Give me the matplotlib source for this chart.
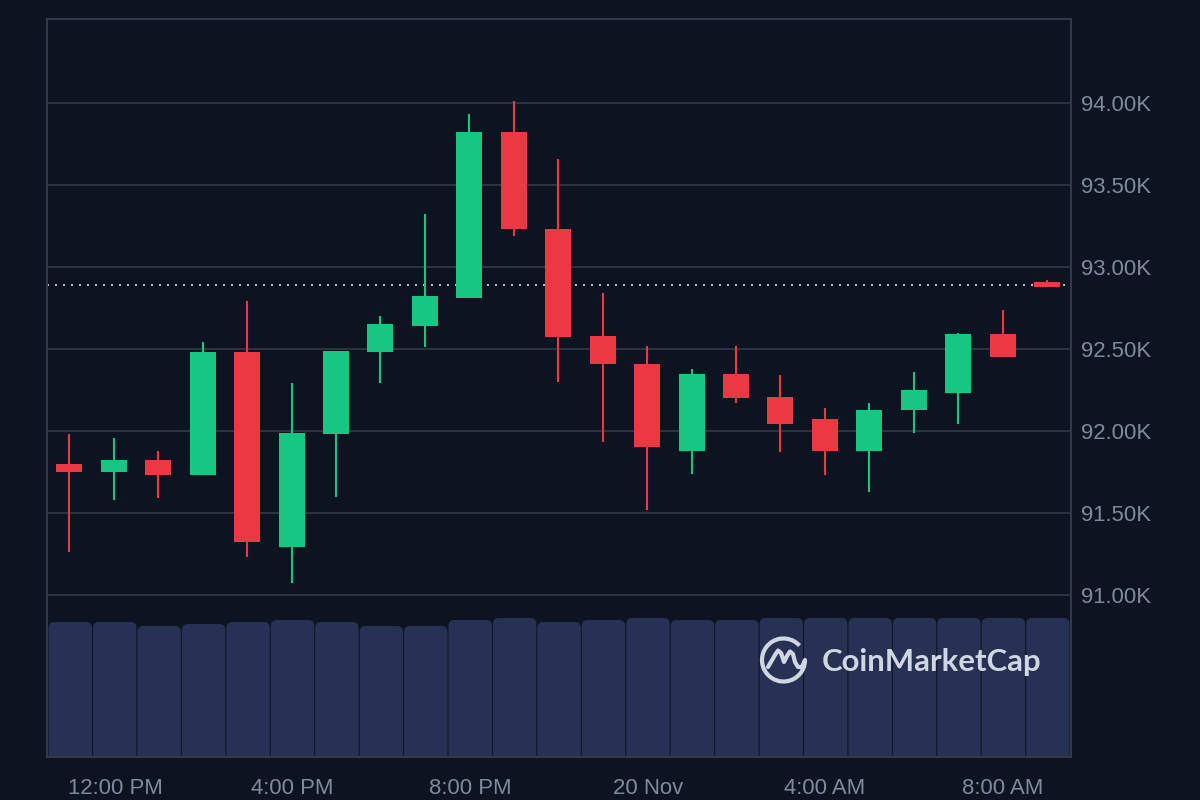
import numpy as np
import matplotlib.pyplot as plt
from matplotlib.patches import FancyBboxPatch, Arc

# OHLC in thousands of USD, one candle per hour-ish slot
opens = [91.80, 91.75, 91.82, 91.73, 92.48, 91.29, 91.98, 92.48, 92.64, 92.81, 93.82, 93.23,
         92.58, 92.41, 91.88, 92.35, 92.21, 92.07, 91.88, 92.13, 92.23, 92.59, 92.91]
closes = [91.75, 91.82, 91.73, 92.48, 91.32, 91.99, 92.49, 92.65, 92.82, 93.82, 93.23, 92.57,
          92.41, 91.90, 92.35, 92.20, 92.04, 91.88, 92.13, 92.25, 92.59, 92.45, 92.88]
highs = [91.98, 91.96, 91.88, 92.54, 92.79, 92.29, 92.49, 92.70, 93.32, 93.93, 94.01, 93.66,
         92.84, 92.52, 92.38, 92.52, 92.34, 92.14, 92.17, 92.36, 92.60, 92.74, 92.92]
lows = [91.26, 91.58, 91.59, 91.73, 91.23, 91.07, 91.60, 92.29, 92.51, 92.81, 93.19, 92.30,
        91.93, 91.52, 91.74, 92.17, 91.87, 91.73, 91.63, 91.99, 92.04, 92.45, 92.88]
volumes = [135, 135, 131, 133, 135, 137, 135, 131, 131, 137, 139, 135,
           137, 139, 137, 137, 139, 139, 139, 139, 139, 139, 139]
# colour of the candle, not always open vs close because of the gaps
is_up = [False, True, False, True, False, True, True, True, True, True, False, False,
         False, False, True, False, False, False, True, True, True, False, False]

last_price = 92.89
price_ticks = [91, 91.5, 92, 92.5, 93, 93.5, 94]
price_labels = ['91.00K', '91.50K', '92.00K', '92.50K', '93.00K', '93.50K', '94.00K']
time_ticks = [1.03, 5.02, 9.02, 13.03, 17.0, 21.01]
time_labels = ['12:00 PM', '4:00 PM', '8:00 PM', '20 Nov', '4:00 AM', '8:00 AM']

BG = '#0d1421'
GRID = '#2b3240'
SPINE = '#323a49'
TEXT = '#808a9d'
GREEN = '#16c784'
RED = '#ea3943'
VOL = '#273154'
LOGO = '#cfd6e4'

plt.rcParams['font.family'] = ['Liberation Sans', 'DejaVu Sans']

XLIM = (-0.504, 22.54)

fig = plt.figure(figsize=(12, 8), dpi=100, facecolor=BG)
rect = [47 / 1200, 1 - 757 / 800, 1024 / 1200, 738 / 800]

# volume sits behind, its own axes with 1 unit = 1 pixel
ax_vol = fig.add_axes(rect, facecolor=BG)
ax_vol.set_xlim(*XLIM)
ax_vol.set_ylim(0, 738)
ax_vol.axis('off')
for i, v in enumerate(volumes):
    box = FancyBboxPatch((i - 0.488 + 0.02, -12), 0.976, v + 12,
                         boxstyle='round,pad=0,rounding_size=0.13',
                         mutation_aspect=44.45, fc=VOL, ec='none')
    ax_vol.add_patch(box)

ax = fig.add_axes(rect, facecolor='none')
ax.set_xlim(*XLIM)
ax.set_ylim(90.012, 94.512)
ax.yaxis.tick_right()
ax.set_yticks(price_ticks, price_labels)
ax.set_xticks(time_ticks, time_labels)
ax.tick_params(axis='y', length=0, pad=7, labelsize=15.9, labelcolor=TEXT)
ax.tick_params(axis='x', length=0, pad=15, labelsize=15.9, labelcolor=TEXT)
ax.grid(True, axis='y', color=GRID, lw=1.5)
ax.set_axisbelow(True)
for s in ax.spines.values():
    s.set_color(SPINE)
    s.set_linewidth(1.5)

ax.plot([XLIM[0], 22.45], [last_price, last_price], color='#b4bac6', lw=1.44,
        linestyle=(0, (1, 3)), zorder=2)

x = np.arange(len(opens))
for i in x:
    c = GREEN if is_up[i] else RED
    ax.vlines(i, lows[i], highs[i], color=c, lw=1.5, zorder=3)
    top = max(opens[i], closes[i])
    bot = min(opens[i], closes[i])
    ax.bar(i, top - bot, bottom=bot, width=26 / 44.45, color=c, lw=0, zorder=4)

# logo overlay in pixel coordinates
ax_logo = fig.add_axes([0, 0, 1, 1], facecolor='none')
ax_logo.set_xlim(0, 1200)
ax_logo.set_ylim(800, 0)
ax_logo.axis('off')
ax_logo.add_patch(Arc((783.5, 660), 43, 43, theta1=0, theta2=318, color=LOGO, lw=3.0))
ax_logo.plot([768, 775, 778, 781, 784, 787, 790, 793, 795, 798, 802, 805],
             [667, 655, 650.5, 653, 662, 656, 651.5, 654, 662, 667, 667, 660],
             color=LOGO, lw=3.0, solid_capstyle='round', solid_joinstyle='round')
ax_logo.text(822, 662.5, 'CoinMarketCap', color=LOGO, fontsize=22.4, fontweight='bold',
             family='Lato', va='center', ha='left')

fig.savefig('out.png', dpi=100, facecolor=BG)
